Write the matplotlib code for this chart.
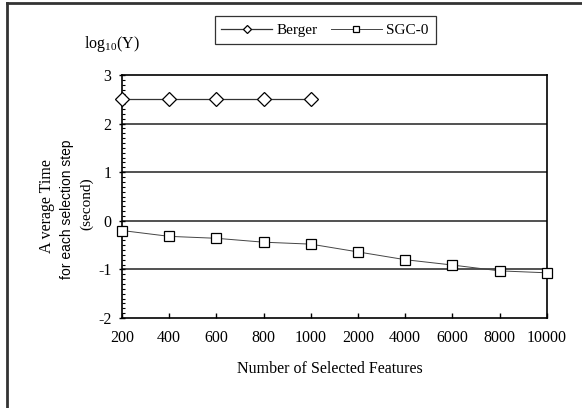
import matplotlib
matplotlib.use("Agg")
import matplotlib.pyplot as plt
from matplotlib.lines import Line2D
from matplotlib.ticker import MultipleLocator, FixedLocator

# ---- data ----
categories = ["200", "400", "600", "800", "1000", "2000", "4000", "6000", "8000", "10000"]
berger = [2.5, 2.5, 2.5, 2.5, 2.5]
sgc0 = [-0.20, -0.32, -0.36, -0.44, -0.48, -0.64, -0.80, -0.91, -1.03, -1.07]
series_names = ["Berger", "SGC-0"]
y_ticks = [-2, -1, 0, 1, 2, 3]

plt.rcParams['font.family'] = ['Liberation Serif', 'DejaVu Serif']
plt.rcParams['mathtext.fontset'] = 'custom'
plt.rcParams['mathtext.rm'] = 'Liberation Serif'
plt.rcParams['mathtext.it'] = 'Liberation Serif:italic'

W, H = 582, 408
fig = plt.figure(figsize=(W / 100, H / 100), dpi=100)
fig.patch.set_facecolor('white')

def fx(px):
    return px / W

def fy(py):
    return 1 - py / H

left, right, top, bottom = 122, 546.7, 75, 318
ax = fig.add_axes([fx(left), fy(bottom), fx(right) - fx(left), fy(top) - fy(bottom)])

x = list(range(len(categories)))
mk = dict(markerfacecolor='white', markeredgecolor='black', markeredgewidth=0.9)
ax.plot(x[:len(berger)], berger, color='#333333', lw=0.9, marker='D', ms=6.8,
        label=series_names[0], zorder=4, clip_on=False, **mk)
ax.plot(x, sgc0, color='#444444', lw=0.7, marker='s', ms=7.8,
        label=series_names[1], zorder=4, clip_on=False, **mk)

ax.set_xlim(0, len(categories) - 1)
ax.set_ylim(-2, 3)
ax.set_xticks(x)
ax.set_xticklabels(categories)
ax.yaxis.set_major_locator(FixedLocator(y_ticks))
ax.set_yticklabels([str(v) for v in y_ticks])
ax.yaxis.set_minor_locator(MultipleLocator(0.1))

for yv in y_ticks[1:-1]:
    ax.axhline(yv, color='#222222', lw=1.1, zorder=1)

for s in ax.spines.values():
    s.set_linewidth(1.2)
    s.set_color('black')

ax.tick_params(axis='x', which='major', direction='in', length=3.5, width=1,
               pad=8.5, labelsize=11.5, top=False)
ax.tick_params(axis='y', which='major', direction='inout', length=5, width=1,
               pad=5, labelsize=11.5, right=False)
ax.tick_params(axis='y', which='minor', direction='in', length=2.5, width=0.8,
               right=False)
ax.tick_params(axis='x', which='minor', bottom=False, top=False)

# legend
leg = fig.legend(loc='center', bbox_to_anchor=(fx(325), fy(30)), ncol=2,
                 frameon=True, fancybox=False, shadow=False, fontsize=11,
                 handlelength=3.3, handletextpad=0.3, columnspacing=0.9,
                 borderpad=0.45, markerscale=0.6)
leg.get_frame().set_edgecolor('black')
leg.get_frame().set_linewidth(0.9)

# texts
fig.text(fx(84), fy(48), r'$\mathrm{log}_{10}\mathrm{(Y)}$', fontsize=11.5,
         ha='left', va='baseline')
fig.text(fx(47), fy(206), 'A verage Time', rotation=90, fontsize=11.5,
         ha='center', va='center')
fig.text(fx(67), fy(209), 'for each selection step', rotation=90, fontsize=10,
         ha='center', va='center', family=['Liberation Sans', 'DejaVu Sans'])
fig.text(fx(87), fy(204), '(second)', rotation=90, fontsize=11,
         ha='center', va='center')
fig.text(fx(330), fy(369), 'Number of Selected Features', fontsize=11.5,
         ha='center', va='center')

# outer frame fragments (top and left edges)
fig.add_artist(Line2D([fx(6.5), 1.0], [fy(2.5), fy(2.5)], color='#333333', lw=2,
                      transform=fig.transFigure))
fig.add_artist(Line2D([fx(6.5), fx(6.5)], [fy(2.5), 0.0], color='#333333', lw=2,
                      transform=fig.transFigure))

fig.savefig('out.png', dpi=100)
